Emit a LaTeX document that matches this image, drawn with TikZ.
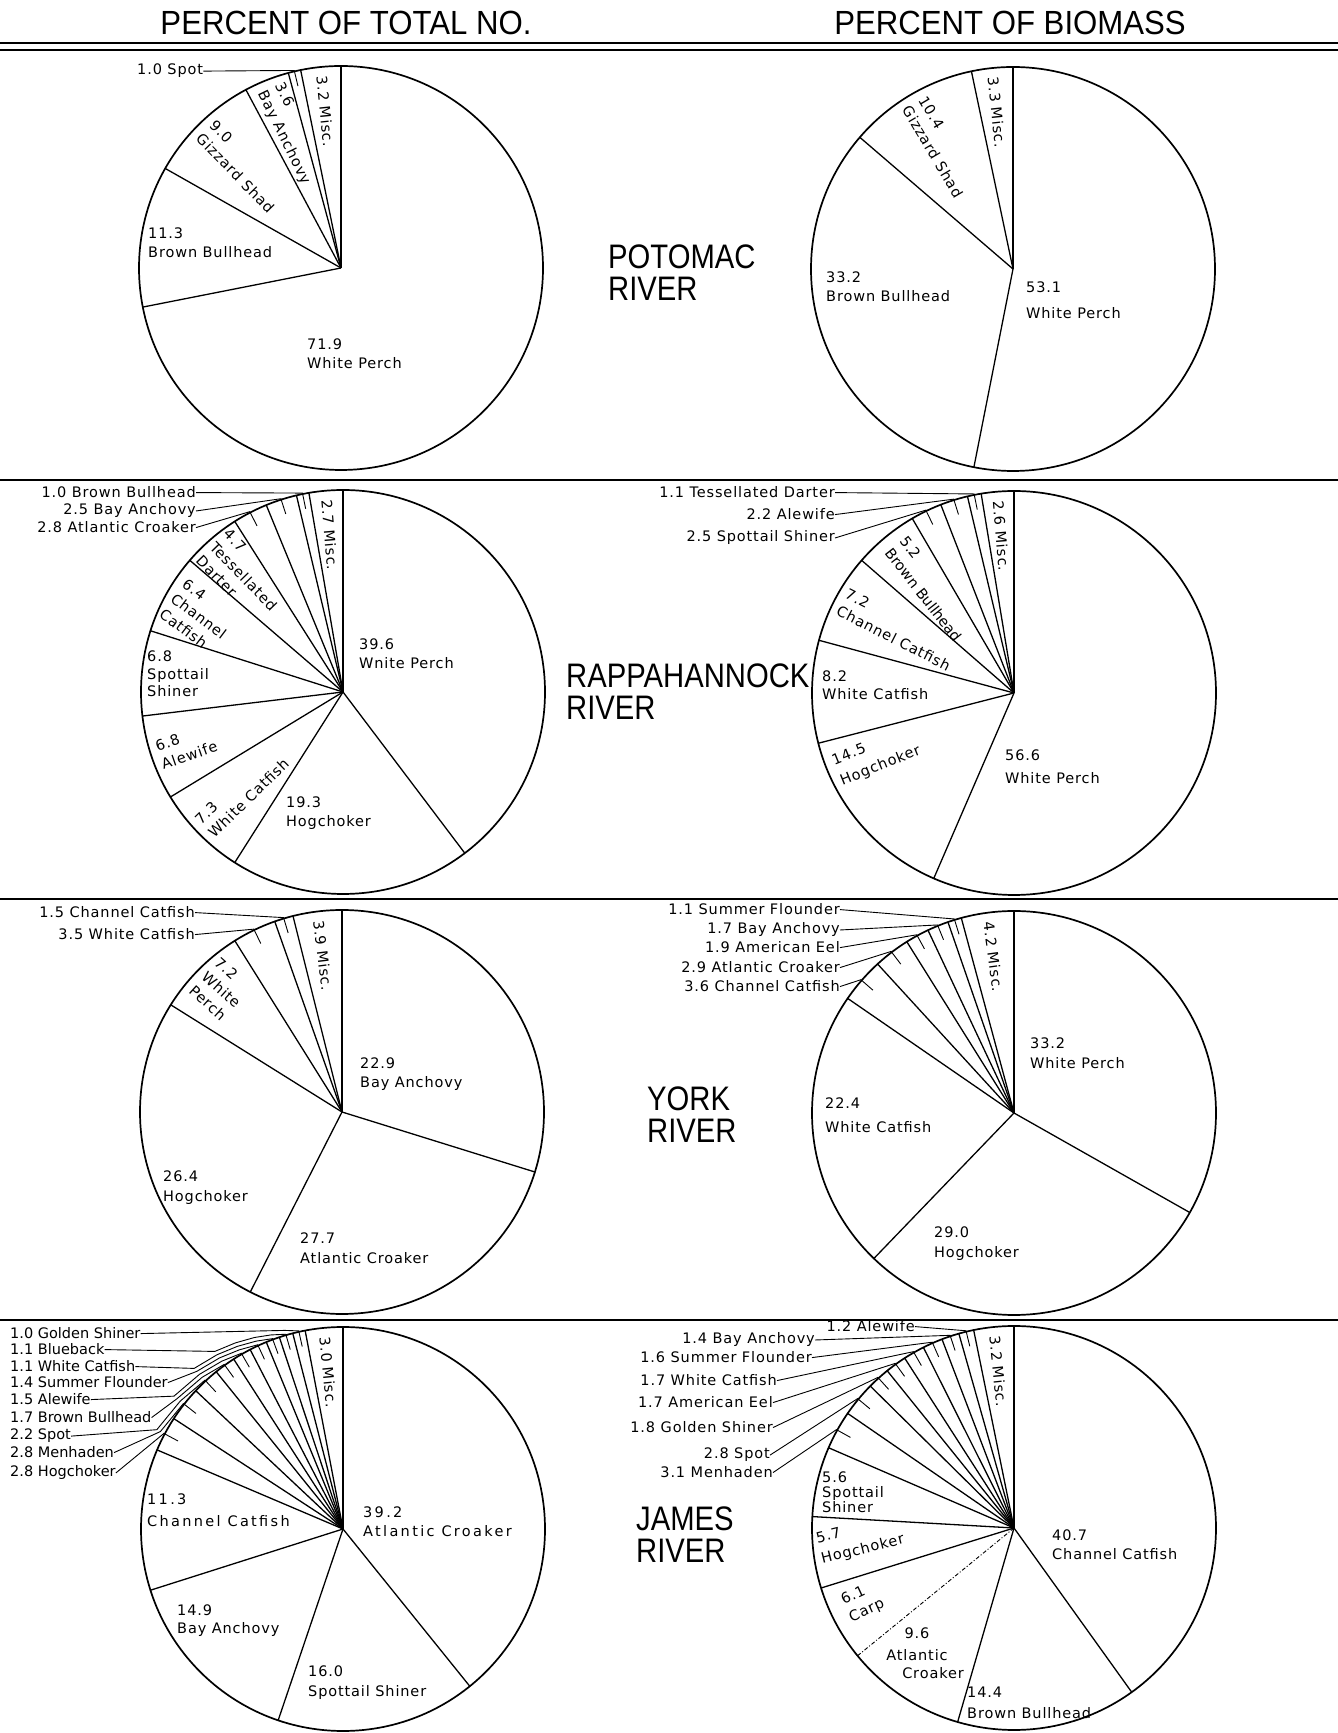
\documentclass[tikz,border=0pt]{standalone}
\usepackage{fontspec}
\newfontfamily\labfont[LetterSpace=6]{DejaVu Sans}
\newfontfamily\widefont[LetterSpace=16]{DejaVu Sans}
\newfontfamily\tightfont{DejaVu Sans}
\newfontfamily\headfont[FakeStretch=0.93]{Liberation Sans}
\newfontfamily\riverfont[FakeStretch=0.86]{Liberation Sans}
\begin{document}
\begin{tikzpicture}[x=1pt,y=1pt,
  pie/.style={line width=1.7pt},
  rad/.style={line width=1.3pt},
  lead/.style={line width=0.9pt},
  lab/.style={font=\labfont\fontsize{14.5}{19}\selectfont, inner sep=0pt, align=left},
  wlab/.style={font=\widefont\fontsize{14.5}{19}\selectfont, inner sep=0pt, align=left},
  tlab/.style={font=\tightfont\fontsize{14.5}{17}\selectfont, inner sep=0pt, align=left},
  head/.style={font=\headfont\fontsize{33.5}{36}\selectfont, inner sep=0pt},
  river/.style={font=\riverfont\fontsize{34}{32}\selectfont, inner sep=0pt, align=left},
  rule/.style={line width=1.6pt}]
\useasboundingbox (0,0) rectangle (1338,1733);
\fill[white] (0,0) rectangle (1338,1733);

% headers and rules
\node[head, anchor=base] (h1) at (346,{1733-35}) {PERCENT OF TOTAL NO.};
\node[head, anchor=base] (h2) at (1010,{1733-35}) {PERCENT OF BIOMASS};
\draw[rule] (0,{1733-43}) -- (1338,{1733-43});
\draw[rule] (0,{1733-50}) -- (1338,{1733-50});
\draw[rule] (0,{1733-480}) -- (1338,{1733-480});
\draw[rule] (0,{1733-899}) -- (1338,{1733-899});
\draw[rule] (0,{1733-1320}) -- (1338,{1733-1320});

% river names
\node[river, anchor=north west] (rv1) at (608,{1733-245}) {POTOMAC\\RIVER};
\node[river, anchor=north west] (rv2) at (566,{1733-664}) {RAPPAHANNOCK\\RIVER};
\node[river, anchor=north west] (rv3) at (647,{1733-1087}) {YORK\\RIVER};
\node[river, anchor=north west] (rv4) at (636,{1733-1507}) {JAMES\\RIVER};

% ---------------- Pie 1 : Potomac, number
\node[lab, anchor=north west] (p1bb) at (148,{1733-228}) {11.3\\Brown Bullhead};
\node[lab, anchor=north west] (p1wp) at (307,{1733-339}) {71.9\\White Perch};
\node[lab, anchor=base west] (p1spot) at (137,{1733-75}) {1.0 Spot};
\begin{scope}[shift={(341,1465)}]
  \draw[pie] (0,0) circle[radius=202];
  \foreach \a in {0,11.52,15.12,28.08,60.48,101.16} \draw[rad] (0,0) -- ({90+\a}:202);
  \node[lab, anchor=west, rotate=-84.24] (p1misc) at (95.76:193) {3.2 Misc.};
  \node[lab, anchor=west, rotate=-64] (p1ba) at (111.6:194) {3.6\\Bay Anchovy};
  \node[lab, anchor=west, rotate=-45.72] (p1gz) at (134.28:194) {9.0\\Gizzard Shad};
  \draw[lead] (p1spot.east) -- (103.32:203) -- (103.32:187);
\end{scope}

% ---------------- Pie 2 : Potomac, biomass
\node[lab, anchor=north west] (p2bb) at (826,{1733-272}) {33.2\\Brown Bullhead};
\node[lab, anchor=north west] (p2wp) at (1026,{1733-282}) {53.1\\[7pt]White Perch};
\begin{scope}[shift={(1013,1464)}]
  \draw[pie] (0,0) circle[radius=202];
  \foreach \a in {0,11.88,49.32,168.84} \draw[rad] (0,0) -- ({90+\a}:202);
  \node[lab, anchor=west, rotate=-84.06] (p2misc) at (95.94:193) {3.3 Misc.};
  \node[lab, anchor=west, rotate=-59.4] (p2gz) at (120.6:194) {10.4\\Gizzard Shad};
\end{scope}

% ---------------- Pie 3 : Rappahannock, number
\node[lab, anchor=north west] (p3wp) at (359,{1733-639}) {39.6\\Wnite Perch};
\node[lab, anchor=north west] (p3ss) at (147,{1733-651}) {6.8\\[-1.5pt]Spottail\\[-1.5pt]Shiner};
\node[lab, anchor=north west] (p3hc) at (286,{1733-797}) {19.3\\Hogchoker};
\node[lab, anchor=base east] (p3bb) at (196,{1733-498}) {1.0 Brown Bullhead};
\node[lab, anchor=base east] (p3ba) at (196,{1733-515}) {2.5 Bay Anchovy};
\node[lab, anchor=base east] (p3ac) at (196,{1733-533}) {2.8 Atlantic Croaker};
\begin{scope}[shift={(343,1041)}]
  \draw[pie] (0,0) circle[radius=202];
  \foreach \a in {0,9.72,13.32,22.32,32.4,49.32,72.36,96.84,121.32,147.6,217.08} \draw[rad] (0,0) -- ({90+\a}:202);
  \node[lab, anchor=west, rotate=-85.14] (p3misc) at (94.86:193) {2.7 Misc.};
  \node[lab, anchor=west, rotate=-46] (p3td) at (131.5:197) {4.7\\Tessellated\\Darter};
  \node[lab, anchor=west, rotate=-37] (p3cc) at (150.84:195) {6.4\\Channel\\Catfish};
  \node[lab, anchor=west, rotate=19.08] (p3aw) at (199.08:195) {6.8\\Alewife};
  \node[lab, anchor=west, rotate=44.46] (p3wc) at (224.46:195) {7.3\\White Catfish};
  \draw[lead] (p3bb.east) -- (101.52:203) -- (101.52:187);
  \draw[lead] (p3ba.east) -- (107.82:203) -- (107.82:187);
  \draw[lead] (p3ac.east) -- (117.36:203) -- (117.36:187);
\end{scope}

% ---------------- Pie 4 : Rappahannock, biomass
\node[lab, anchor=north west] (p4wc) at (822,{1733-671}) {8.2\\[-1pt]White Catfish};
\node[lab, anchor=north west] (p4wp) at (1005,{1733-750}) {56.6\\[4pt]White Perch};
\node[lab, anchor=west, rotate=22] (p4hc) at (837,{1733-772}) {14.5\\[3pt]Hogchoker};
\node[lab, anchor=base east] (p4td) at (835,{1733-498}) {1.1 Tessellated Darter};
\node[lab, anchor=base east] (p4aw) at (835,{1733-520}) {2.2 Alewife};
\node[lab, anchor=base east] (p4ss) at (835,{1733-542}) {2.5 Spottail Shiner};
\begin{scope}[shift={(1014,1040)}]
  \draw[pie] (0,0) circle[radius=202];
  \foreach \a in {0,9.36,13.32,21.24,30.24,48.96,74.88,104.4,156.6} \draw[rad] (0,0) -- ({90+\a}:202);
  \node[lab, anchor=west, rotate=-85.32] (p4misc) at (94.68:193) {2.6 Misc.};
  \node[tlab, anchor=west, rotate=-52] (p4bb) at (128.5:190) {5.2\\[2pt]Brown Bullhead};
  \node[lab, anchor=west, rotate=-27] (p4cc) at (151.92:195) {7.2\\Channel Catfish};
  \draw[lead] (p4td.east) -- (101.34:203) -- (101.34:187);
  \draw[lead] (p4aw.east) -- (107.28:203) -- (107.28:187);
  \draw[lead] (p4ss.east) -- (115.74:203) -- (115.74:187);
\end{scope}

% ---------------- Pie 5 : York, number
\node[lab, anchor=north west] (p5ba) at (360,{1733-1058}) {22.9\\Bay Anchovy};
\node[lab, anchor=north west] (p5hc) at (163,{1733-1171}) {26.4\\[1pt]Hogchoker};
\node[lab, anchor=north west] (p5ac) at (300,{1733-1233}) {27.7\\[1pt]Atlantic Croaker};
\node[lab, anchor=base east] (p5cc) at (195,{1733-918}) {1.5 Channel Catfish};
\node[lab, anchor=base east] (p5wc) at (195,{1733-940}) {3.5 White Catfish};
\begin{scope}[shift={(342,621)}]
  \draw[pie] (0,0) circle[radius=202];
  \foreach \a in {0,14.04,19.44,32.04,57.96,153,252.72} \draw[rad] (0,0) -- ({90+\a}:202);
  \node[lab, anchor=west, rotate=-82.98] (p5misc) at (97.02:193) {3.9 Misc.};
  \node[lab, anchor=west, rotate=-42] (p5wp) at (135:195) {7.2\\White\\Perch};
  \draw[lead] (p5cc.east) -- (106.74:203) -- (106.74:187);
  \draw[lead] (p5wc.east) -- (115.74:203) -- (115.74:187);
\end{scope}

% ---------------- Pie 6 : York, biomass
\node[lab, anchor=north west] (p6wp) at (1030,{1733-1038}) {33.2\\[1pt]White Perch};
\node[lab, anchor=north west] (p6wc) at (825,{1733-1098}) {22.4\\[5pt]White Catfish};
\node[lab, anchor=north west] (p6hc) at (934,{1733-1227}) {29.0\\[1pt]Hogchoker};
\node[lab, anchor=base east] (p6sf) at (840,{1733-915}) {1.1 Summer Flounder};
\node[lab, anchor=base east] (p6ba) at (840,{1733-934}) {1.7 Bay Anchovy};
\node[lab, anchor=base east] (p6ae) at (840,{1733-953}) {1.9 American Eel};
\node[lab, anchor=base east] (p6ac) at (840,{1733-973}) {2.9 Atlantic Croaker};
\node[lab, anchor=base east] (p6cc) at (840,{1733-992}) {3.6 Channel Catfish};
\begin{scope}[shift={(1014,620)}]
  \draw[pie] (0,0) circle[radius=202];
  \foreach \a in {0,15.12,19.08,25.2,32.04,42.48,55.44,136.08,240.48} \draw[rad] (0,0) -- ({90+\a}:202);
  \node[lab, anchor=west, rotate=-82.44] (p6misc) at (97.56:193) {4.2 Misc.};
  \draw[lead] (p6sf.east) -- (107.1:203) -- (107.1:187);
  \draw[lead] (p6ba.east) -- (112.14:203) -- (112.14:187);
  \draw[lead] (p6ae.east) -- (118.62:203) -- (118.62:187);
  \draw[lead] (p6ac.east) -- (127.26:203) -- (127.26:187);
  \draw[lead] (p6cc.east) -- (138.96:203) -- (138.96:187);
\end{scope}

% ---------------- Pie 7 : James, number
\node[wlab, anchor=north west] (p7cc) at (147,{1733-1494}) {11.3\\[3pt]Channel Catfish};
\node[wlab, anchor=north west] (p7ac) at (363,{1733-1507}) {39.2\\Atlantic Croaker};
\node[lab, anchor=north west] (p7ba) at (177,{1733-1605}) {14.9\\[-1pt]Bay Anchovy};
\node[lab, anchor=north west] (p7ss) at (308,{1733-1666}) {16.0\\[1pt]Spottail Shiner};
\node[tlab, anchor=base west] (p7gs) at (10,{1733-1339}) {1.0 Golden Shiner};
\node[tlab, anchor=base west] (p7bk) at (10,{1733-1355}) {1.1 Blueback};
\node[tlab, anchor=base west] (p7wc) at (10,{1733-1372}) {1.1 White Catfish};
\node[tlab, anchor=base west] (p7sf) at (10,{1733-1388}) {1.4 Summer Flounder};
\node[tlab, anchor=base west] (p7aw) at (10,{1733-1405}) {1.5 Alewife};
\node[tlab, anchor=base west] (p7bb) at (10,{1733-1423}) {1.7 Brown Bullhead};
\node[tlab, anchor=base west] (p7sp) at (10,{1733-1440}) {2.2 Spot};
\node[tlab, anchor=base west] (p7mh) at (10,{1733-1458}) {2.8 Menhaden};
\node[tlab, anchor=base west] (p7hc) at (10,{1733-1477}) {2.8 Hogchoker};
\begin{scope}[shift={(343,204)}]
  \draw[pie] (0,0) circle[radius=202];
  \foreach \a in {0,10.8,14.4,18.36,22.32,27.36,32.76,38.88,46.8,56.88,66.96,107.64,161.28,218.88} \draw[rad] (0,0) -- ({90+\a}:202);
  \node[lab, anchor=west, rotate=-84.6] (p7misc) at (95.4:193) {3.0 Misc.};
  \draw[lead] (p7gs.east) -- (106.38:207) -- (102.6:203) -- (102.6:187);
  \draw[lead] (p7bk.east) -- (125.82:219) -- (120.06:215) -- (114.84:211) -- (110.34:207) -- (106.38:203) -- (106.38:187);
  \draw[lead] (p7wc.east) -- (132.84:219) -- (125.82:215) -- (120.06:211) -- (114.84:207) -- (110.34:203) -- (110.34:187);
  \draw[lead] (p7sf.east) -- (132.84:215) -- (125.82:211) -- (120.06:207) -- (114.84:203) -- (114.84:187);
  \draw[lead] (p7aw.east) -- (141.84:215) -- (132.84:211) -- (125.82:207) -- (120.06:203) -- (120.06:187);
  \draw[lead] (p7bb.east) -- (141.84:211) -- (132.84:207) -- (125.82:203) -- (125.82:187);
  \draw[lead] (p7sp.east) -- (151.92:211) -- (141.84:207) -- (132.84:203) -- (132.84:187);
  \draw[lead] (p7mh.east) -- (151.92:207) -- (141.84:203) -- (141.84:187);
  \draw[lead] (p7hc.east) -- (151.92:203) -- (151.92:187);
\end{scope}

% ---------------- Pie 8 : James, biomass
\node[lab, anchor=north west] (p8cc) at (1052,{1733-1530}) {40.7\\Channel Catfish};
\node[lab, anchor=north west] (p8ss) at (822,{1733-1472}) {5.6\\[-4pt]Spottail\\[-4pt]Shiner};
\node[lab, anchor=north, align=center] (p8ac) at (917,{1733-1628}) {9.6\\[3pt]Atlantic};
\node[lab, anchor=north] (p8ac2) at (933,{1733-1667}) {Croaker};
\node[lab, anchor=north west] (p8bb) at (967,{1733-1687}) {14.4\\[2pt]Brown Bullhead};
\node[lab, anchor=west, rotate=14] (p8hc) at (819,{1733-1550}) {5.7\\[2pt]Hogchoker};
\node[lab, anchor=west, rotate=25] (p8cp) at (846,{1733-1610}) {6.1\\Carp};
\node[lab, anchor=base east] (p8aw) at (915,{1733-1332}) {1.2 Alewife};
\node[lab, anchor=base east] (p8ba) at (815,{1733-1344}) {1.4 Bay Anchovy};
\node[lab, anchor=base east] (p8sf) at (812,{1733-1363}) {1.6 Summer Flounder};
\node[lab, anchor=base east] (p8wc) at (777,{1733-1386}) {1.7 White Catfish};
\node[lab, anchor=base east] (p8ae) at (773,{1733-1408}) {1.7 American Eel};
\node[lab, anchor=base east] (p8gs) at (773,{1733-1433}) {1.8 Golden Shiner};
\node[lab, anchor=base east] (p8sp) at (770,{1733-1459}) {2.8 Spot};
\node[lab, anchor=base east] (p8mh) at (773,{1733-1478}) {3.1 Menhaden};
\begin{scope}[shift={(1014,205)}]
  \draw[pie] (0,0) circle[radius=202];
  \foreach \a in {0,11.52,15.84,20.88,26.64,32.76,38.88,45.36,55.44,66.6,86.76,107.28,163.8,215.64} \draw[rad] (0,0) -- ({90+\a}:202);
  \draw[line width=0.9pt, dash pattern=on 4pt off 2pt on 1pt off 2pt] (0,0) -- ({90+129.24}:202);
  \node[lab, anchor=west, rotate=-84.24] (p8misc) at (95.76:193) {3.2 Misc.};
  \draw[lead] (p8aw.east) -- (103.68:203) -- (103.68:187);
  \draw[lead] (p8ba.east) -- (108.36:203) -- (108.36:187);
  \draw[lead] (p8sf.east) -- (113.76:203) -- (113.76:187);
  \draw[lead] (p8wc.east) -- (119.7:203) -- (119.7:187);
  \draw[lead] (p8ae.east) -- (125.82:203) -- (125.82:187);
  \draw[lead] (p8gs.east) -- (132.12:203) -- (132.12:187);
  \draw[lead] (p8sp.east) -- (140.4:203) -- (140.4:187);
  \draw[lead] (p8mh.east) -- (151.02:203) -- (151.02:187);
\end{scope}
\end{tikzpicture}
\end{document}
